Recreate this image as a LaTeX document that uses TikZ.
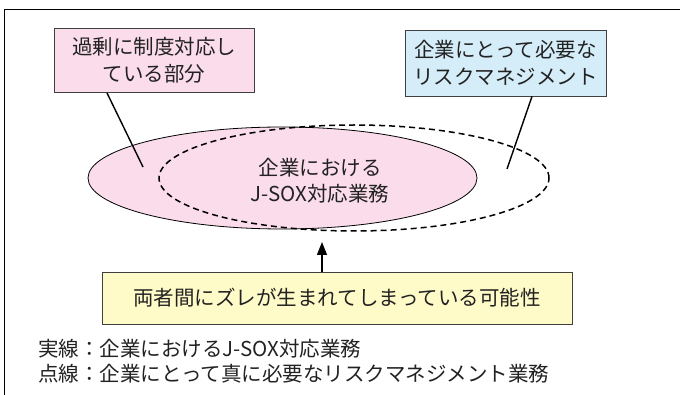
\documentclass[tikz,border=0pt]{standalone}
\usepackage{fontspec}
\setmainfont{Noto Sans CJK JP}
\usetikzlibrary{shapes.geometric,arrows.meta}
\definecolor{pinkfill}{HTML}{FADCEA}
\definecolor{bluefill}{HTML}{D5EDF8}
\definecolor{yellowfill}{HTML}{FFFBC8}
\definecolor{boxline}{HTML}{404040}
\definecolor{textcol}{HTML}{222222}
\tikzset{
  labelbox/.style={draw=boxline, line width=0.9pt, rectangle, inner sep=0pt, align=center,
    text=textcol, font=\fontsize{20.5}{27}\selectfont},
  plaintext/.style={inner sep=0pt, text=textcol, font=\fontsize{20.5}{26}\selectfont},
  leader/.style={line width=1.4pt, black},
}
\begin{document}
\begin{tikzpicture}[x=1pt,y=-1pt]
\useasboundingbox (0,0) rectangle (680,395);
% frame
\draw[line width=1pt, black] (4.7,400) -- (4.7,9.5) -- (690,9.5);
% ellipses
\node[ellipse, draw=black, line width=0.8pt, fill=pinkfill, minimum width=389pt, minimum height=102pt, inner sep=0pt] (solid) at (282.5,178) {};
\node[ellipse, draw=black, line width=1.5pt, dash pattern=on 6pt off 4pt, minimum width=390pt, minimum height=106pt, inner sep=0pt] (dashed) at (354,178) {};
\node[plaintext, align=center, font=\fontsize{20.5}{26}\selectfont] (jsox) at (320,181) {企業における\\J-SOX対応業務};
% boxes
\node[labelbox, fill=pinkfill, minimum width=200pt, minimum height=64pt] (over) at (154,60.5) {過剰に制度対応し\\ている部分};
\node[labelbox, fill=bluefill, minimum width=201pt, minimum height=66pt] (risk) at (505.5,63) {企業にとって必要な\\リスクマネジメント};
\node[labelbox, fill=yellowfill, minimum width=470pt, minimum height=52pt] (gap) at (337,298) {両者間にズレが生まれてしまっている可能性};
% leaders
\coordinate (overend) at (143,167);
\coordinate (riskend) at (507,169);
\coordinate (gapend) at (322,242);
\draw[leader] (over.south -| 107,0) -- (overend);
\draw[leader] (risk.south -| 532,0) -- (riskend);
\draw[leader, -{Triangle[length=13pt,width=10pt]}] (gap.north -| 322,0) -- (gapend);
% legend
\node[plaintext, anchor=west] (leg1) at (38,349) {実線：企業におけるJ-SOX対応業務};
\node[plaintext, anchor=west] (leg2) at (38,374) {点線：企業にとって真に必要なリスクマネジメント業務};
\end{tikzpicture}
\end{document}
